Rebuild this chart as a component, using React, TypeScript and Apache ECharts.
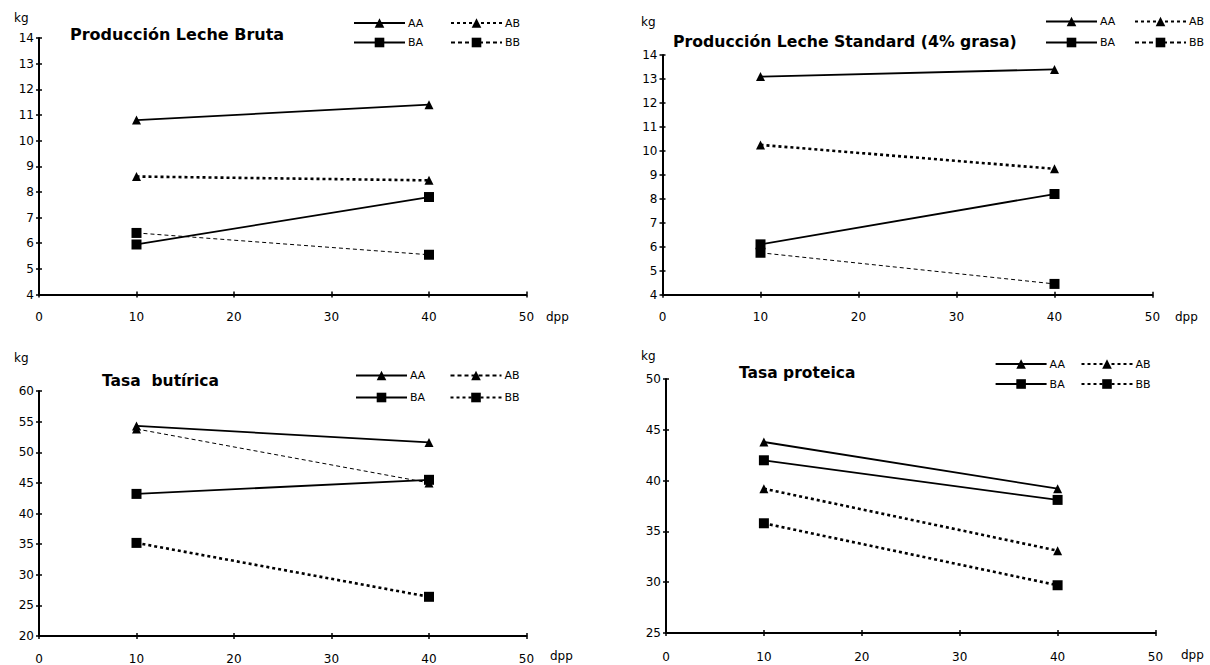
import React, { useEffect, useRef } from "react";
import * as echarts from "echarts";

// ---- data ----
const days = [10, 40];

// Producción Leche Bruta
const p1AA = [10.8, 11.4];
const p1AB = [8.6, 8.45];
const p1BA = [5.95, 7.8];
const p1BB = [6.4, 5.55];
// Producción Leche Standard (4% grasa)
const p2AA = [13.1, 13.4];
const p2AB = [10.25, 9.25];
const p2BA = [6.1, 8.2];
const p2BB = [5.75, 4.45];
// Tasa butírica
const p3AA = [54.3, 51.6];
const p3AB = [53.8, 45.0];
const p3BA = [43.2, 45.5];
const p3BB = [35.2, 26.4];
// Tasa proteica
const p4AA = [43.8, 39.2];
const p4AB = [39.2, 33.1];
const p4BA = [42.0, 38.1];
const p4BB = [35.8, 29.7];

const titles = [
  "Producción Leche Bruta",
  "Producción Leche Standard (4% grasa)",
  "Tasa  butírica",
  "Tasa proteica",
];
const groupNames = ["AA", "AB", "BA", "BB"];

const FONT = "'DejaVu Sans', 'Liberation Sans', Arial, sans-serif";

type Panel = {
  grid: { left: number; top: number; width: number; height: number };
  yMin: number;
  yMax: number;
  yInterval: number;
  labelMargin: number;
  values: number[][];
  styles: string[];
  legend: { c1: number; c2: number; top: number; gap: number };
  title: { left: number; top: number; size: number };
  kg: { left: number; top: number };
  dpp: { left: number; top: number };
};

const panels: Panel[] = [
  {
    grid: { left: 39, top: 38, width: 487.5, height: 256.5 },
    yMin: 4, yMax: 14, yInterval: 1, labelMargin: 16,
    values: [p1AA, p1AB, p1BA, p1BB],
    styles: ["solid", "thick", "solid", "thin"],
    legend: { c1: 353, c2: 450, top: 17, gap: 7.5 },
    title: { left: 70, top: 26, size: 16 },
    kg: { left: 14, top: 12 },
    dpp: { left: 546, top: 311 },
  },
  {
    grid: { left: 662.5, top: 55, width: 490, height: 239.7 },
    yMin: 4, yMax: 14, yInterval: 1, labelMargin: 16,
    values: [p2AA, p2AB, p2BA, p2BB],
    styles: ["solid", "thick", "solid", "thin"],
    legend: { c1: 1045, c2: 1134, top: 15.5, gap: 9 },
    title: { left: 673, top: 33, size: 15.7 },
    kg: { left: 641, top: 16 },
    dpp: { left: 1175, top: 311 },
  },
  {
    grid: { left: 39, top: 391, width: 487.5, height: 245 },
    yMin: 20, yMax: 60, yInterval: 5, labelMargin: 17,
    values: [p3AA, p3AB, p3BA, p3BB],
    styles: ["solid", "thin", "solid", "thick"],
    legend: { c1: 355, c2: 449.5, top: 369.5, gap: 10 },
    title: { left: 102, top: 373, size: 15.5 },
    kg: { left: 14, top: 352 },
    dpp: { left: 550, top: 650 },
  },
  {
    grid: { left: 666, top: 379, width: 489.5, height: 254 },
    yMin: 25, yMax: 50, yInterval: 5, labelMargin: 18,
    values: [p4AA, p4AB, p4BA, p4BB],
    styles: ["solid", "thick", "solid", "thick"],
    legend: { c1: 994.6, c2: 1080.5, top: 358, gap: 8 },
    title: { left: 739, top: 365, size: 15.5 },
    kg: { left: 641, top: 350 },
    dpp: { left: 1181, top: 649 },
  },
];

function lineStyleFor(kind: string) {
  if (kind === "thick") return { color: "#000", width: 2.6, type: [3, 3] as any };
  if (kind === "thin") return { color: "#000", width: 1, type: [4, 3] as any };
  return { color: "#000", width: 1.8, type: "solid" as any };
}

function buildOption() {
  const grid: any[] = [];
  const xAxis: any[] = [];
  const yAxis: any[] = [];
  const series: any[] = [];
  const legend: any[] = [];
  const title: any[] = [];

  panels.forEach((p, pi) => {
    grid.push({ ...p.grid, containLabel: false });
    const axisLine = { show: true, lineStyle: { color: "#000", width: 2 } };
    const label = { color: "#000", fontSize: 12, fontFamily: FONT };
    xAxis.push({
      type: "value", gridIndex: pi, position: "bottom", min: 0, max: 50, interval: 10,
      axisLine, splitLine: { show: false },
      axisTick: { show: true, length: 3, lineStyle: { color: "#000", width: 1.5 } },
      axisLabel: { ...label, margin: p.labelMargin },
    });
    xAxis.push({
      type: "value", gridIndex: pi, position: "bottom", min: 0, max: 50, interval: 10,
      axisLine: { show: false }, splitLine: { show: false }, axisLabel: { show: false },
      axisTick: { show: true, inside: true, length: 3, lineStyle: { color: "#000", width: 1.5 } },
    });
    yAxis.push({
      type: "value", gridIndex: pi, position: "left", min: p.yMin, max: p.yMax, interval: p.yInterval,
      axisLine, splitLine: { show: false },
      axisTick: { show: true, length: 3, lineStyle: { color: "#000", width: 1.5 } },
      axisLabel: { ...label, margin: 5 },
    });
    yAxis.push({
      type: "value", gridIndex: pi, position: "left", min: p.yMin, max: p.yMax, interval: p.yInterval,
      axisLine: { show: false }, splitLine: { show: false }, axisLabel: { show: false },
      axisTick: { show: true, inside: true, length: 3, lineStyle: { color: "#000", width: 1.5 } },
    });

    groupNames.forEach((g, si) => {
      const isTri = g === "AA" || g === "AB";
      series.push({
        type: "line",
        name: `${g}-${pi + 1}`,
        xAxisIndex: pi * 2,
        yAxisIndex: pi * 2,
        data: days.map((d, i) => [d, p.values[si][i]]),
        symbol: isTri ? "triangle" : "rect",
        symbolSize: isTri ? 9 : 10,
        showAllSymbol: true,
        itemStyle: { color: "#000" },
        lineStyle: lineStyleFor(p.styles[si]),
        emphasis: { disabled: true },
        z: 3,
      });
    });

    const legendCommon = {
      orient: "vertical",
      padding: 0,
      itemWidth: 51,
      itemHeight: 12,
      itemGap: p.legend.gap,
      selectedMode: false,
      formatter: (n: string) => n.split("-")[0],
      textStyle: { color: "#000", fontSize: 11, fontFamily: FONT, lineHeight: 12, padding: [0, 0, 0, -2] },
    };
    legend.push({ ...legendCommon, left: p.legend.c1, top: p.legend.top, data: [`AA-${pi + 1}`, `BA-${pi + 1}`] });
    legend.push({ ...legendCommon, left: p.legend.c2, top: p.legend.top, data: [`AB-${pi + 1}`, `BB-${pi + 1}`] });

    title.push({
      text: titles[pi], left: p.title.left, top: p.title.top, padding: 0,
      textStyle: { color: "#000", fontSize: p.title.size, fontWeight: "bold", fontFamily: FONT },
    });
    title.push({
      text: "kg", left: p.kg.left, top: p.kg.top, padding: 0,
      textStyle: { color: "#000", fontSize: 12, fontWeight: "normal", fontFamily: FONT },
    });
    title.push({
      text: "dpp", left: p.dpp.left, top: p.dpp.top, padding: 0,
      textStyle: { color: "#000", fontSize: 12, fontWeight: "normal", fontFamily: FONT },
    });
  });

  return {
    animation: false,
    backgroundColor: "#fff",
    textStyle: { fontFamily: FONT },
    grid, xAxis, yAxis, series, legend, title,
  };
}

export default function App() {
  const ref = useRef<HTMLDivElement>(null);
  useEffect(() => {
    if (!ref.current) return;
    const chart = echarts.init(ref.current, undefined, { renderer: "svg" });
    chart.setOption(buildOption() as any);
    return () => chart.dispose();
  }, []);
  return (
    <div
      ref={ref}
      style={{ position: "fixed", left: 0, top: 0, width: 1210, height: 665, background: "#fff" }}
    />
  );
}
